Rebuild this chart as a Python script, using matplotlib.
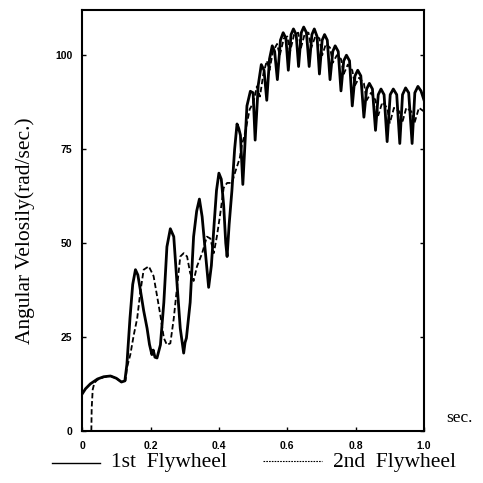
import matplotlib
matplotlib.use("Agg")
import matplotlib.pyplot as plt
from matplotlib.lines import Line2D

# 1st flywheel (solid)
t1 = [0.000, 0.010, 0.024, 0.045, 0.063, 0.083, 0.100, 0.115, 0.125, 0.131,
      0.140, 0.148, 0.156, 0.163, 0.170, 0.180, 0.190, 0.197, 0.204, 0.208,
      0.213, 0.219, 0.229, 0.239, 0.248, 0.258, 0.268, 0.278, 0.287, 0.297,
      0.301, 0.305, 0.316, 0.326, 0.335, 0.343, 0.351, 0.360, 0.370, 0.378,
      0.386, 0.393, 0.400, 0.407, 0.414, 0.420, 0.424, 0.430, 0.438, 0.446,
      0.453, 0.458, 0.463, 0.470, 0.476, 0.482, 0.492, 0.500, 0.506,
      0.515, 0.524, 0.532, 0.540, 0.548, 0.556, 0.563, 0.571, 0.580, 0.588,
      0.596, 0.603, 0.611, 0.618, 0.626, 0.633, 0.641, 0.648, 0.656, 0.664,
      0.672, 0.679, 0.687, 0.694, 0.702, 0.709, 0.717, 0.725, 0.733, 0.740,
      0.749, 0.757, 0.765, 0.773, 0.782, 0.790, 0.798, 0.806, 0.815, 0.824,
      0.832, 0.840, 0.849, 0.858, 0.866, 0.874, 0.883, 0.892, 0.901, 0.910,
      0.920, 0.929, 0.937, 0.946, 0.955, 0.965, 0.973, 0.982, 0.991, 1.000]
w1 = [9.8, 11.2, 12.5, 13.8, 14.4, 14.6, 14.0, 13.0, 13.3, 17.7,
      30.0, 39.0, 42.9, 41.5, 37.7, 32.0, 27.3, 23.0, 20.3, 21.5,
      19.6, 19.4, 22.9, 34.2, 49.0, 53.8, 51.7, 38.6, 27.3, 20.7,
      23.5, 24.7, 34.2, 51.7, 58.5, 61.7, 57.0, 48.0, 38.2, 44.0,
      55.0, 64.0, 68.6, 67.0, 60.0, 50.0, 46.4, 55.0, 63.9, 75.0,
      81.7, 80.5, 78.7, 65.6, 76.0, 86.5, 90.4, 90.0, 77.4,
      92.0, 97.5, 96.0, 88.0, 99.0, 102.5, 101.0, 93.5, 104.0, 106.0,
      104.5, 96.0, 105.5, 107.0, 105.5, 97.0, 106.0, 107.5, 106.0, 97.0,
      105.5, 107.0, 105.0, 95.0, 104.0, 105.5, 104.0, 93.5, 101.0, 102.5,
      101.0, 90.5, 98.5, 100.0, 98.5, 86.5, 94.5, 96.0, 94.5, 83.5,
      91.0, 92.5, 91.0, 80.0, 89.5, 91.0, 89.5, 77.0, 89.5, 91.0,
      89.5, 76.5, 89.5, 91.3, 90.0, 76.5, 90.0, 91.7, 90.5, 88.0]

# 2nd flywheel (dashed)
t2 = [0.027, 0.028, 0.031, 0.036, 0.045, 0.063, 0.083, 0.100, 0.115, 0.127,
      0.131, 0.141, 0.151, 0.161, 0.170, 0.180, 0.195, 0.209, 0.219, 0.229,
      0.239, 0.248, 0.258, 0.268, 0.278, 0.287, 0.297, 0.307, 0.316, 0.326,
      0.336, 0.351, 0.365, 0.375, 0.385, 0.394, 0.404, 0.414, 0.424, 0.438,
      0.448, 0.461, 0.467, 0.477, 0.490, 0.501, 0.511,
      0.520, 0.530, 0.540, 0.548, 0.558, 0.570, 0.578, 0.590, 0.600, 0.608,
      0.620, 0.632, 0.640, 0.652, 0.662, 0.670, 0.682, 0.694, 0.702, 0.713,
      0.725, 0.733, 0.745, 0.757, 0.765, 0.777, 0.790, 0.798, 0.810, 0.824,
      0.832, 0.845, 0.858, 0.866, 0.878, 0.892, 0.900, 0.912, 0.928, 0.936,
      0.948, 0.963, 0.972, 0.985, 1.000]
w2 = [0.0, 6.0, 11.0, 12.8, 13.6, 14.3, 14.6, 14.0, 13.0, 13.4,
      16.8, 20.3, 25.5, 29.9, 36.8, 42.9, 43.8, 41.2, 36.0, 30.7,
      24.7, 22.9, 23.3, 29.9, 38.6, 46.4, 47.3, 46.4, 42.0, 39.9,
      43.8, 47.3, 51.7, 51.2, 47.3, 51.7, 57.8, 64.7, 66.0, 66.0,
      69.0, 72.6, 76.0, 79.5, 85.6, 87.4, 91.7,
      89.0, 95.0, 98.5, 96.0, 101.0, 103.0, 100.0, 104.5, 105.0, 101.0,
      105.5, 106.0, 102.0, 106.0, 106.0, 102.0, 105.0, 104.5, 100.0, 103.0,
      102.0, 98.0, 100.0, 99.0, 95.0, 97.5, 96.0, 92.0, 94.0, 92.5,
      88.0, 90.0, 88.0, 84.0, 87.5, 86.0, 82.0, 86.0, 85.0, 82.0,
      86.0, 85.0, 82.0, 86.0, 85.0]

xticks = [0, 0.2, 0.4, 0.6, 0.8, 1.0]
xlabels = ["0", "0.2", "0.4", "0.6", "0.8", "1.0"]
yticks = [0, 25, 50, 75, 100]
ylabels = ["0", "25", "50", "75", "100"]

fig = plt.figure(figsize=(4.83, 4.83), dpi=100)
ax = fig.add_axes([0.170, 0.108, 0.708, 0.871])

ax.plot(t1, w1, color="black", lw=2.0, solid_joinstyle="round")
ax.plot(t2, w2, color="black", lw=1.3, ls=(0, (3, 1.5)))

ax.set_xlim(0, 1.0)
ax.set_ylim(0, 112)
ax.set_xticks(xticks)
ax.set_xticklabels(xlabels)
ax.set_yticks(yticks)
ax.set_yticklabels(ylabels)
ax.tick_params(direction="in", length=3, width=1, right=True, top=False,
               labelsize=7.5, pad=7)
for lab in ax.get_xticklabels() + ax.get_yticklabels():
    lab.set_fontweight("bold")
    lab.set_family("Liberation Sans")
for s in ax.spines.values():
    s.set_linewidth(1.5)

serif = "Liberation Serif"
fig.text(25 / 483, 1 - 231 / 483, "Angular Velosily(rad/sec.)", rotation=90,
         ha="center", va="center", family=serif, fontsize=15.5)
fig.text(446 / 483, 1 - 418 / 483, "sec.", ha="left", va="center",
         family=serif, fontsize=12.5)

ly = 1 - 463 / 483
fig.add_artist(Line2D([52 / 483, 100 / 483], [ly, ly], color="black", lw=1.0))
fig.text(111 / 483, ly, "1st  Flywheel", ha="left", va="center",
         family=serif, fontsize=15.5)
fig.add_artist(Line2D([263 / 483, 322 / 483], [ly + 0.004, ly + 0.004],
                      color="black", lw=0.8, ls=(0, (1.5, 1))))
fig.text(333 / 483, ly, "2nd  Flywheel", ha="left", va="center",
         family=serif, fontsize=15.5)

fig.savefig("out.png", dpi=100)
